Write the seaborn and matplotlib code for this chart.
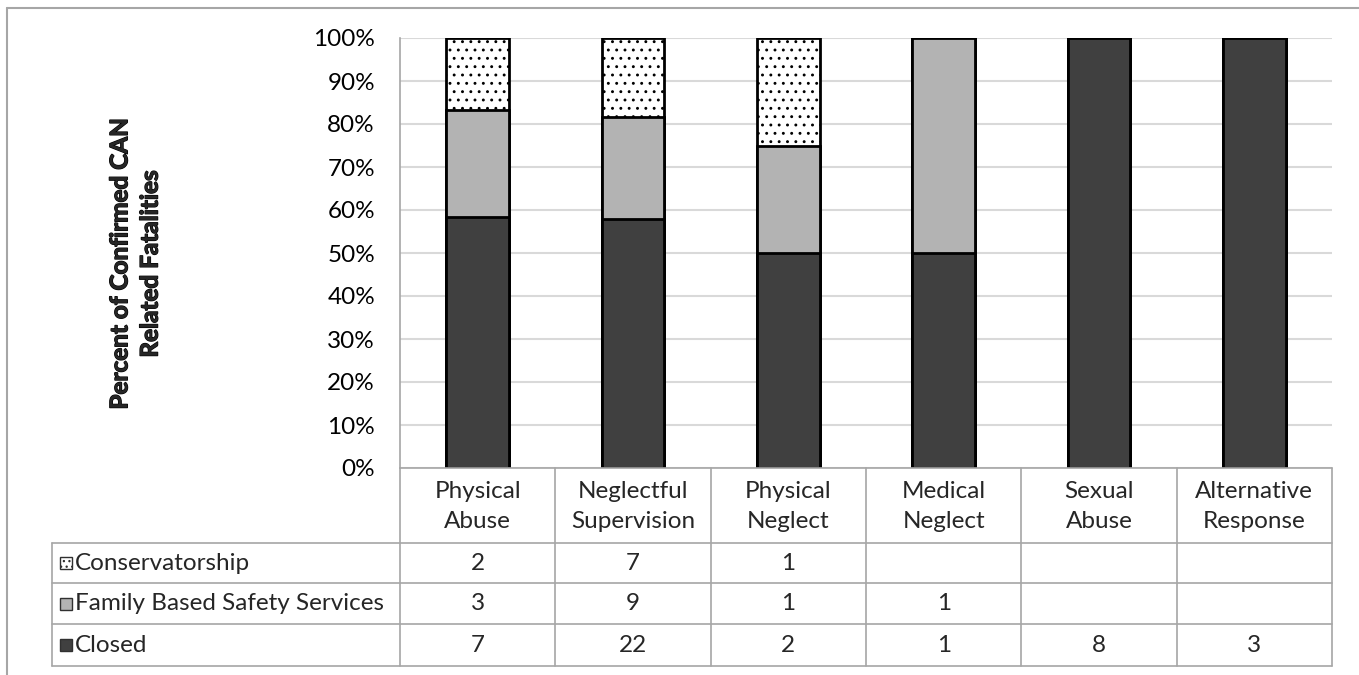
import numpy as np
import pandas as pd
import matplotlib
matplotlib.use("Agg")
import matplotlib.pyplot as plt
import matplotlib.patheffects as pe
from matplotlib.patches import Rectangle
from matplotlib.lines import Line2D
from matplotlib.ticker import PercentFormatter
import seaborn as sns

# data
categories = ["Physical\nAbuse", "Neglectful\nSupervision", "Physical\nNeglect",
              "Medical\nNeglect", "Sexual\nAbuse", "Alternative\nResponse"]
series_names = ["Conservatorship", "Family Based Safety Services", "Closed"]
closed = [7, 22, 2, 1, 8, 3]
fbss = [3, 9, 1, 1, 0, 0]
conservatorship = [2, 7, 1, 0, 0, 0]

sns.set_theme(style="white")
plt.rcParams["font.family"] = ["Lato", "DejaVu Sans"]
plt.rcParams["hatch.color"] = "#606060"
plt.rcParams["hatch.linewidth"] = 0.9

W, H = 1359, 675
FS = 17.5
GRID = "#d9d9d9"
LINE = "#a6a6a6"
col_closed = "#404040"
col_fbss = "#b3b3b3"

# percentages, stacked
df = pd.DataFrame({"cat": categories, "closed": closed, "fbss": fbss,
                   "cons": conservatorship})
total = df[["closed", "fbss", "cons"]].sum(axis=1)
df["p_closed"] = df["closed"] / total
df["p_fbss"] = df["p_closed"] + df["fbss"] / total
df["p_cons"] = df["p_fbss"] + df["cons"] / total

fig = plt.figure(figsize=(W / 100, H / 100), dpi=100)

# plot area in pixel terms
px_l, px_r, px_top, px_bot = 400, 1332, 38, 468
ax = fig.add_axes([px_l / W, 1 - px_bot / H, (px_r - px_l) / W, (px_bot - px_top) / H])

bw = 0.405
sns.barplot(data=df, x="cat", y="p_cons", order=categories, color="white",
            edgecolor="black", linewidth=2, width=bw, hatch="..", ax=ax)
sns.barplot(data=df, x="cat", y="p_fbss", order=categories, color=col_fbss,
            saturation=1, edgecolor="black", linewidth=2, width=bw, ax=ax)
sns.barplot(data=df, x="cat", y="p_closed", order=categories, color=col_closed,
            saturation=1, edgecolor="black", linewidth=2, width=bw, ax=ax)

ax.set_xlim(-0.5, 5.5)
ax.set_ylim(0, 1)
ax.set_yticks(np.arange(0, 1.01, 0.1))
ax.yaxis.set_major_formatter(PercentFormatter(1.0, decimals=0))
ax.tick_params(axis="y", length=0, pad=18, labelsize=FS, labelcolor="black")
ax.set_xticks([])
ax.set_xlabel("")
ax.set_ylabel("")
ax.yaxis.grid(True, color=GRID, linewidth=1.5)
ax.set_axisbelow(True)
for s in ["top", "right", "bottom"]:
    ax.spines[s].set_visible(False)
ax.spines["left"].set_color(LINE)
ax.spines["left"].set_linewidth(1.2)

ylab = fig.text(135 / W, 1 - 264 / H, "Percent of Confirmed CAN\nRelated Fatalities",
                rotation=90, ha="center", va="center", fontsize=17.5, fontweight="bold",
                linespacing=1.38)
ylab.set_path_effects([pe.withStroke(linewidth=0.9, foreground="black")])

# data table below the plot
tb_l, tb_bot = 52, 666
cat_px = (px_r - px_l) / 6
lab_w = (px_l - tb_l) / cat_px
ax_t = fig.add_axes([tb_l / W, 1 - tb_bot / H, (px_r - tb_l) / W, (tb_bot - px_bot) / H])
ax_t.set_xlim(-0.5 - lab_w, 5.5)
ax_t.set_ylim(0, tb_bot - px_bot)
ax_t.axis("off")

row_y = [0, 42, 83, 123]
top_y = tb_bot - px_bot
lw = 1.2
for y in row_y:
    ax_t.plot([-0.5 - lab_w, 5.5], [y, y], color=LINE, lw=lw, clip_on=False)
ax_t.plot([-0.5, 5.5], [top_y, top_y], color=LINE, lw=lw, clip_on=False)
for i in range(7):
    ax_t.plot([i - 0.5, i - 0.5], [0, top_y], color=LINE, lw=lw, clip_on=False)
ax_t.plot([-0.5 - lab_w, -0.5 - lab_w], [0, row_y[-1]], color=LINE, lw=lw, clip_on=False)

for i, c in enumerate(categories):
    ax_t.text(i, (row_y[-1] + top_y) / 2 - 1, c, ha="center", va="center",
              fontsize=FS, linespacing=1.55)

rows = [("Conservatorship", conservatorship, "white", "..."),
        ("Family Based Safety Services", fbss, col_fbss, None),
        ("Closed", closed, col_closed, None)]
key_w = 12 / cat_px
for r, (name, vals, fc, hatch) in enumerate(rows):
    y0, y1 = row_y[2 - r], row_y[3 - r]
    yc = (y0 + y1) / 2
    kx = -0.5 - lab_w + 8 / cat_px
    ax_t.add_patch(Rectangle((kx, yc - 6), key_w, 12, facecolor=fc,
                             edgecolor="#303030", lw=1, hatch=hatch))
    ax_t.text(kx + key_w + 3 / cat_px, yc, name, ha="left", va="center", fontsize=FS)
    for i, v in enumerate(vals):
        if v:
            ax_t.text(i, yc, str(v), ha="center", va="center", fontsize=FS)

# outer chart frame
fig.add_artist(Line2D([7 / W, 1], [1 - 8 / H, 1 - 8 / H], color=LINE, lw=1.5))
fig.add_artist(Line2D([7 / W, 7 / W], [0, 1 - 8 / H], color=LINE, lw=1.5))

fig.savefig("out.png", dpi=100)
